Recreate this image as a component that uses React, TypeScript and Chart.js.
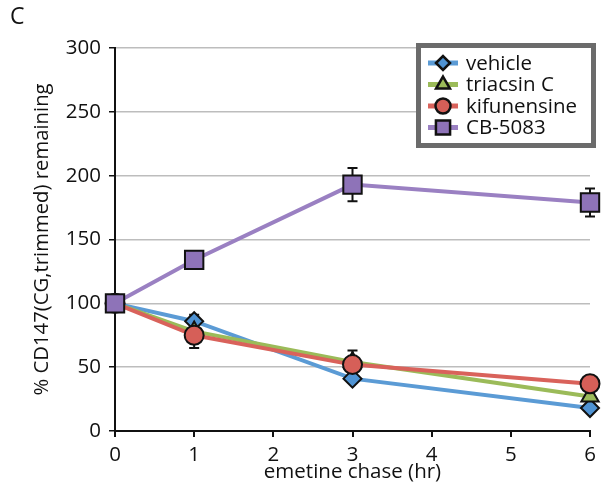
import React, { useEffect, useRef } from "react";
import { Chart, registerables } from "chart.js";

Chart.register(...registerables);

const hours = [0, 1, 3, 6];
const seriesNames = ["vehicle", "triacsin C", "kifunensine", "CB-5083"];
const vehicle = [100, 86, 41, 18];
const triacsin = [100, 78, 54, 27];
const kifunensine = [100, 75, 52, 37];
const cb5083 = [100, 134, 193, 179];
const vehicleErr = [0, 5, 3, 2];
const triacsinErr = [0, 5, 4, 3];
const kifunensineErr = [0, 10, 11, 3];
const cb5083Err = [0, 4, 13, 11];
const yMin = 0;
const yMax = 300;
const yStep = 50;
const xMin = 0;
const xMax = 6;

const lineColors = ["#5B9BD5", "#9BBB59", "#D9625B", "#9A80C2"];
const fillColors = ["#4F93D3", "#9BBB59", "#D65F58", "#8E73B8"];
const markers = ["rectRot", "triangle", "circle", "rect"];
const radii = [9, 10, 9.5, 13];
const FONT = "'Open Sans', 'Noto Sans', sans-serif";

function drawMarker(ctx: CanvasRenderingContext2D, style: string, x: number, y: number, r: number) {
  ctx.beginPath();
  if (style === "rectRot") {
    ctx.moveTo(x - r, y);
    ctx.lineTo(x, y - r);
    ctx.lineTo(x + r, y);
    ctx.lineTo(x, y + r);
    ctx.closePath();
  } else if (style === "triangle") {
    const a = (2 * Math.PI) / 3;
    ctx.moveTo(x, y - r);
    ctx.lineTo(x + Math.sin(a) * r, y - Math.cos(a) * r);
    ctx.lineTo(x + Math.sin(2 * a) * r, y - Math.cos(2 * a) * r);
    ctx.closePath();
  } else if (style === "circle") {
    ctx.arc(x, y, r, 0, Math.PI * 2);
  } else {
    const s = Math.SQRT1_2 * r;
    ctx.rect(x - s, y - s, 2 * s, 2 * s);
  }
  ctx.fill();
  ctx.stroke();
}

const errorBarPlugin = {
  id: "errorBars",
  beforeDatasetsDraw(chart: any) {
    const ctx = chart.ctx;
    const xs = chart.scales.x;
    const ys = chart.scales.y;
    const values = [vehicle, triacsin, kifunensine, cb5083];
    const errs = [vehicleErr, triacsinErr, kifunensineErr, cb5083Err];
    ctx.save();
    ctx.strokeStyle = "#111";
    ctx.lineWidth = 2;
    values.forEach((vals, i) => {
      vals.forEach((v, j) => {
        const e = errs[i][j];
        if (!e) return;
        const x = xs.getPixelForValue(hours[j]);
        const y1 = ys.getPixelForValue(v + e);
        const y2 = ys.getPixelForValue(v - e);
        ctx.beginPath();
        ctx.moveTo(x, y1);
        ctx.lineTo(x, y2);
        ctx.moveTo(x - 5, y1);
        ctx.lineTo(x + 5, y1);
        ctx.moveTo(x - 5, y2);
        ctx.lineTo(x + 5, y2);
        ctx.stroke();
      });
    });
    ctx.restore();
  },
};

const legendPlugin = {
  id: "boxLegend",
  afterDraw(chart: any) {
    const ctx = chart.ctx;
    ctx.save();
    ctx.fillStyle = "#fff";
    ctx.fillRect(418, 45, 176, 101);
    ctx.strokeStyle = "#6B6B6B";
    ctx.lineWidth = 5;
    ctx.strokeRect(418.5, 45.5, 175, 100);
    const legendR = [7, 8, 7.5, 10];
    seriesNames.forEach((name, i) => {
      const y = 63 + i * 21.5;
      ctx.strokeStyle = lineColors[i];
      ctx.lineWidth = 5;
      ctx.beginPath();
      ctx.moveTo(428, y);
      ctx.lineTo(458, y);
      ctx.stroke();
      ctx.fillStyle = fillColors[i];
      ctx.strokeStyle = "#111";
      ctx.lineWidth = 2.5;
      drawMarker(ctx, markers[i], 443, y, legendR[i]);
      ctx.fillStyle = "#111";
      ctx.font = `20.5px ${FONT}`;
      ctx.textBaseline = "middle";
      ctx.textAlign = "left";
      ctx.fillText(name, 466, y + 1);
    });
    ctx.font = `23px ${FONT}`;
    ctx.textBaseline = "top";
    ctx.fillText("C", 10, 6);
    ctx.restore();
  },
};

export default function App() {
  const ref = useRef<HTMLCanvasElement>(null);
  useEffect(() => {
    document.body.style.margin = "0";
    const allVals = [vehicle, triacsin, kifunensine, cb5083];
    const chart = new Chart(ref.current!, {
      type: "line",
      data: {
        datasets: seriesNames.map((name, i) => ({
          label: name,
          data: hours.map((h, j) => ({ x: h, y: allVals[i][j] })),
          borderColor: lineColors[i],
          borderWidth: 4,
          backgroundColor: fillColors[i],
          pointBackgroundColor: fillColors[i],
          pointBorderColor: "#111",
          pointBorderWidth: 2,
          pointStyle: markers[i] as any,
          pointRadius: radii[i],
          tension: 0,
          clip: false as any,
          order: 4 - i,
        })),
      },
      options: {
        responsive: false,
        animation: false,
        layout: { padding: { top: 48, right: 12, left: 0, bottom: 0 } },
        plugins: { legend: { display: false }, tooltip: { enabled: false } },
        scales: {
          x: {
            type: "linear",
            min: xMin,
            max: xMax,
            ticks: { stepSize: 1, color: "#111", font: { family: FONT, size: 20.5 }, padding: 6 },
            grid: { drawOnChartArea: false, color: "#111", tickLength: 6, lineWidth: 2 },
            border: { color: "#111", width: 2 },
            title: {
              display: true,
              text: "emetine chase (hr)",
              color: "#111",
              font: { family: FONT, size: 20.5 },
              padding: { top: 0, bottom: 3 },
            },
            afterFit(scale: any) {
              scale.height = 56;
            },
          },
          y: {
            min: yMin,
            max: yMax,
            ticks: { stepSize: yStep, color: "#111", font: { family: FONT, size: 20.5 }, padding: 8 },
            grid: { color: "#BDBDBD", lineWidth: 1.5, tickColor: "#111", tickLength: 6 },
            border: { color: "#111", width: 2 },
            title: {
              display: true,
              text: "% CD147(CG,trimmed) remaining",
              color: "#111",
              font: { family: FONT, size: 20.3 },
              padding: { top: 30, bottom: 0 },
            },
            afterFit(scale: any) {
              scale.width = 115;
            },
          },
        },
      },
      plugins: [errorBarPlugin, legendPlugin],
    });
    return () => chart.destroy();
  }, []);
  return (
    <div style={{ position: "absolute", left: 0, top: 0, width: 605, height: 487 }}>
      <canvas ref={ref} width={605} height={487} style={{ display: "block" }} />
    </div>
  );
}
